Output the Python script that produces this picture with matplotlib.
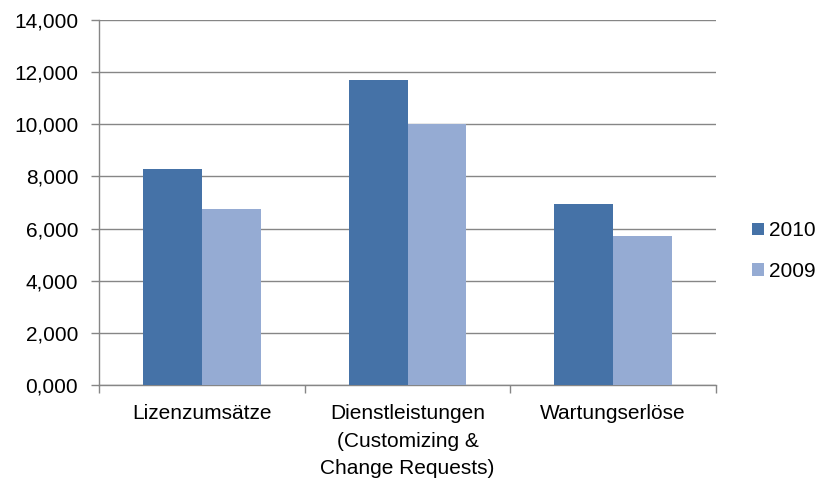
import numpy as np
import matplotlib
matplotlib.use("Agg")
import matplotlib.pyplot as plt
from matplotlib.ticker import FuncFormatter

categories = ["Lizenzumsätze", "Dienstleistungen\n(Customizing &\nChange Requests)", "Wartungserlöse"]
values_2010 = [8300, 11700, 6950]
values_2009 = [6750, 10000, 5700]
series_labels = ["2010", "2009"]

plt.rcParams["font.family"] = ["Liberation Sans", "DejaVu Sans"]

fig = plt.figure(figsize=(8.26, 4.84), dpi=100)
ax = fig.add_axes([0.1199, 0.2045, 0.7469, 0.7542])

x = np.arange(len(categories))
w = 1 / 3.5
ax.bar(x - w / 2, values_2010, w, color="#4572A7", label=series_labels[0], zorder=3)
ax.bar(x + w / 2, values_2009, w, color="#95ABD3", label=series_labels[1], zorder=3)

ax.set_xlim(-0.5, len(categories) - 0.5)
ax.set_ylim(0, 14000)
ax.set_yticks(range(0, 14001, 2000))
# German-style thousands shown as "14,000"
ax.yaxis.set_major_formatter(FuncFormatter(lambda v, p: f"{int(v) // 1000},{int(v) % 1000:03d}"))
ax.grid(axis="y", color="#868686", linewidth=1, zorder=0)

# category boundaries as ticks, labels at centres
ax.set_xticks(np.arange(-0.5, len(categories), 1))
ax.set_xticklabels([])
ax.set_xticks(x, minor=True)
ax.set_xticklabels(categories, minor=True, fontsize=15, linespacing=1.55, va="top")
ax.tick_params(axis="x", which="major", length=6, color="#868686", width=1)
ax.tick_params(axis="x", which="minor", length=0, pad=14)
ax.tick_params(axis="y", length=6, color="#868686", width=1, labelsize=15, pad=9)

for s in ["top", "right"]:
    ax.spines[s].set_visible(False)
for s in ["left", "bottom"]:
    ax.spines[s].set_color("#868686")
    ax.spines[s].set_linewidth(1)

fig.legend(loc="center left", bbox_to_anchor=(0.8878, 0.4808), frameon=False,
           fontsize=15, handlelength=0.58, handleheight=0.58, handletextpad=0.24,
           labelspacing=1.05)

fig.savefig("out.png", dpi=100)
